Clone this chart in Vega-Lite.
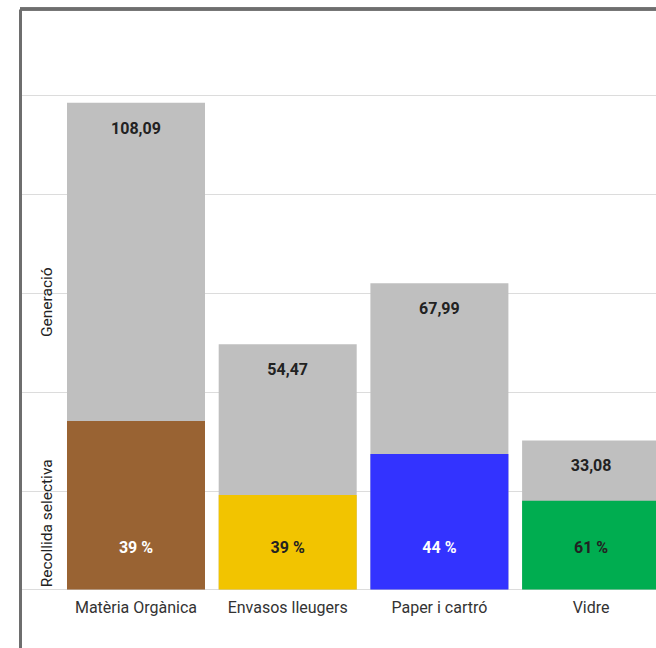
{
  "$schema": "https://vega.github.io/schema/vega-lite/v6.json",
  "autosize": "none",
  "width": 636,
  "height": 639,
  "padding": {"left": 20, "top": 9, "right": 0, "bottom": 0},
  "background": "white",
  "config": {
    "view": {"stroke": null},
    "font": "Roboto",
    "locale": {"number": {"decimal": ",", "thousands": ".", "grouping": [3], "currency": ["", " €"]}}
  },
  "data": {
    "values": [
      {"category": "Matèria Orgànica", "total": 108.09, "recollida": 37.4, "pct": "39 %"},
      {"category": "Envasos lleugers", "total": 54.47, "recollida": 21.0, "pct": "39 %"},
      {"category": "Paper i cartró", "total": 67.99, "recollida": 30.1, "pct": "44 %"},
      {"category": "Vidre", "total": 33.08, "recollida": 19.7, "pct": "61 %"}
    ]
  },
  "layer": [
    {
      "mark": {"type": "bar", "color": "#BFBFBF", "clip": true},
      "encoding": {
        "x": {
          "field": "category", "type": "nominal", "sort": null, "title": null,
          "scale": {"range": [0, 687.1], "paddingInner": 0.0903, "paddingOuter": 0.3098},
          "axis": {"orient": "bottom", "offset": -58.5, "domain": false, "ticks": false, "labelPadding": 9.5, "labelAngle": 0, "labelFontSize": 16, "labelColor": "#333333", "labelFont": "Roboto", "labelBaseline": "top"}
        },
        "y": {
          "field": "total", "type": "quantitative", "title": null,
          "scale": {"domain": [-13, 128.9], "nice": false, "zero": false},
          "axis": {
            "orient": "left",
            "values": [0, 14.8, 21.96, 43.92, 63.9, 65.88, 87.84, 109.8],
            "labelExpr": "datum.value == 14.8 ? 'Recollida selectiva' : (datum.value == 63.9 ? 'Generació' : '')",
            "grid": true,
            "gridColor": "#DCDCDC",
            "gridWidth": 1,
            "gridOpacity": {"condition": {"test": "datum.value == 14.8 || datum.value == 63.9", "value": 0}, "value": 1},
            "domain": true, "domainColor": "#6E6E6E", "domainWidth": 3,
            "ticks": false,
            "labelAngle": 270, "labelAlign": "center", "labelBaseline": "alphabetic",
            "labelPadding": -31.5, "labelFontSize": 15.5, "labelColor": "#222222",
            "labelFont": "Roboto", "labelOverlap": false, "labelBound": false
          }
        },
        "y2": {"datum": 0}
      }
    },
    {
      "mark": {"type": "bar", "clip": true},
      "encoding": {
        "x": {"field": "category", "type": "nominal", "sort": null, "title": null},
        "y": {"field": "recollida", "type": "quantitative", "title": null},
        "y2": {"datum": 0},
        "color": {
          "field": "category", "type": "nominal", "legend": null,
          "scale": {"domain": ["Matèria Orgànica", "Envasos lleugers", "Paper i cartró", "Vidre"], "range": ["#996333", "#F2C400", "#3333FF", "#00AD50"]}
        }
      }
    },
    {
      "mark": {"type": "text", "fontWeight": "bold", "fontSize": 16, "baseline": "middle", "dy": 26, "color": "#222222", "font": "Roboto"},
      "encoding": {
        "x": {"field": "category", "type": "nominal", "sort": null, "title": null},
        "y": {"field": "total", "type": "quantitative", "title": null},
        "text": {"field": "total", "type": "quantitative", "format": ".2f"}
      }
    },
    {
      "mark": {"type": "text", "fontWeight": "bold", "fontSize": 16, "baseline": "middle", "font": "Roboto"},
      "encoding": {
        "x": {"field": "category", "type": "nominal", "sort": null, "title": null},
        "y": {"datum": 9.2, "type": "quantitative"},
        "text": {"field": "pct", "type": "nominal"},
        "color": {
          "condition": {"test": "datum.category == 'Matèria Orgànica' || datum.category == 'Paper i cartró'", "value": "#FFFFFF"},
          "value": "#222222"
        }
      }
    },
    {
      "mark": {"type": "rule", "color": "#6E6E6E", "strokeWidth": 3},
      "encoding": {
        "y": {"datum": 128.9, "type": "quantitative"}
      }
    }
  ]
}
